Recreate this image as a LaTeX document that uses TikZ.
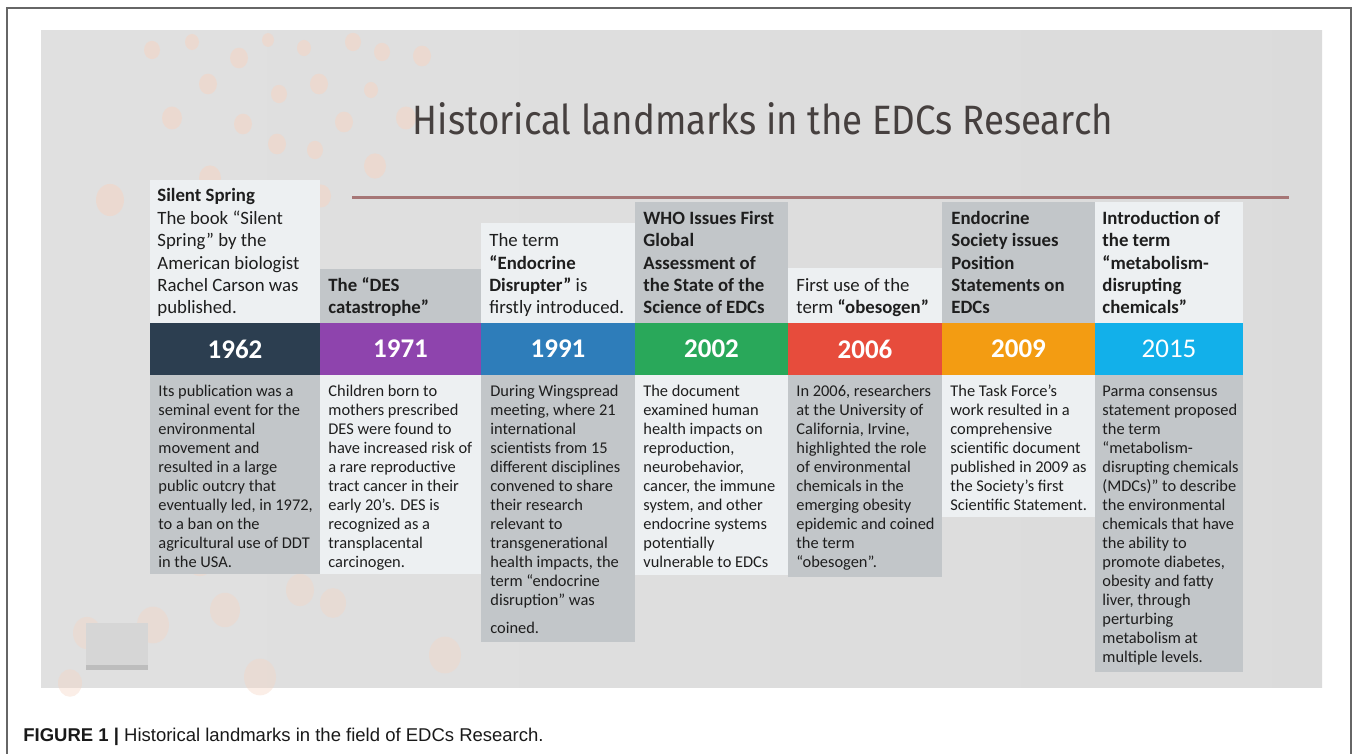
\documentclass[tikz,border=0pt]{standalone}
\usepackage{fontspec}
\usepackage{graphicx}
\usepackage{tikz}
\usetikzlibrary{positioning}
\setmainfont{Carlito}
\newfontfamily\titlefont{Fira Sans}
\newfontfamily\capfont{Liberation Sans}

\definecolor{navy}{HTML}{2C3E50}
\definecolor{purp}{HTML}{8E44AD}
\definecolor{blu}{HTML}{2E7DBA}
\definecolor{grn}{HTML}{29A85A}
\definecolor{rd}{HTML}{E74C3C}
\definecolor{orng}{HTML}{F39C12}
\definecolor{cyn}{HTML}{12B0EA}
\definecolor{lightbox}{HTML}{EDF0F2}
\definecolor{graybox}{HTML}{C2C6C9}
\definecolor{brownline}{HTML}{A67676}
\definecolor{titlegray}{HTML}{46403F}
\definecolor{dotc}{HTML}{F5D5C4}
\definecolor{textc}{HTML}{1E1E1E}

\tikzset{
  toptext/.style={anchor=north west, inner sep=0pt, align=left, text=textc,
    font=\fontsize{9.4}{11.2}\selectfont},
  toptextb/.style={toptext, font=\bfseries\fontsize{9.4}{11.2}\selectfont},
  bottext/.style={anchor=north west, inner sep=0pt, align=left, text=textc,
    font=\fontsize{8.2}{9.5}\selectfont},
  yearlabel/.style={inner sep=0pt, text=white, font=\bfseries\fontsize{13.5}{16}\selectfont},
}

\begin{document}
\begin{tikzpicture}[x=0.5pt,y=-0.5pt]
\useasboundingbox (0,0) rectangle (1357,754);
% frame of the figure
\draw[black!60, line width=0.9pt] (7,754) -- (7,8) -- (1351,8) -- (1351,754);
% slide background
\shade[left color=black!12, middle color=black!4, right color=black!14] (41,31) rectangle (1322,688);
\foreach \px/\py/\r in {152/50/8,192/42/7,239/58/9,268/40/6,304/48/7,353/42/8,382/52/8,422/56/9,
  208/84/9,279/94/8,319/84/9,371/90/7,172/118/10,243/124/9,277/144/9,315/150/8,344/122/9,406/118/10,
  210/178/11,268/196/10,321/196/10,375/166/11,110/200/14}
  \fill[dotc, opacity=0.55] (\px,\py) ellipse ({\r} and {1.15*\r});
\foreach \px/\py/\r in {153/625/16,225/610/15,300/590/14,87/633/14,260/677/16,70/683/12,333/603/13,445/655/16,200/560/14}
  \fill[dotc, opacity=0.4] (\px,\py) ellipse ({\r} and {1.15*\r});
% small box bottom left
\fill[black!16] (86,623) rectangle (148,668);
\fill[black!26] (86,665) rectangle (148,670);
% title and rule
\node[anchor=base, text=titlegray, font=\titlefont\fontsize{20.5}{22}\selectfont] (title) at (763,135) {\scalebox{0.895}[1]{Historical landmarks in the EDCs Research}};
\coordinate (l) at (352,198);
\coordinate (r) at (1289,198);
\draw[brownline, line width=1.5pt] (l) -- (r);

% landmark 1: 1962
\fill[lightbox] (150,180) rectangle (320,323);
\fill[navy] (150,323) rectangle (320,375);
\fill[graybox] (150,375) rectangle (320,574);
\node[toptext] (top1) at (157,185.8) {\strut\textbf{Silent Spring}\\The book “Silent\\Spring” by the\\American biologist\\Rachel Carson was\\published.};
\node[yearlabel] (year1) at (235,349) {1962};
\node[bottext] (bot1) at (158,382.7) {\strut Its publication was a\\seminal event for the\\environmental\\movement and\\resulted in a large\\public outcry that\\eventually led, in 1972,\\to a ban on the\\agricultural use of DDT\\in the USA.};

% landmark 2: 1971
\fill[graybox] (320,269) rectangle (481,323);
\fill[purp] (320,323) rectangle (481,375);
\fill[lightbox] (320,375) rectangle (481,574);
\node[toptextb] (top2) at (328,275.4) {\strut The “DES\\catastrophe”};
\node[yearlabel] (year2) at (400.5,349) {1971};
\node[bottext] (bot2) at (328,382.7) {\strut Children born to\\mothers prescribed\\DES were found to\\have increased risk of\\a rare reproductive\\tract cancer in their\\early 20’s. DES is\\recognized as a\\transplacental\\carcinogen.};

% landmark 3: 1991
\fill[lightbox] (481,223) rectangle (635,323);
\fill[blu] (481,323) rectangle (635,375);
\fill[graybox] (481,375) rectangle (635,642);
\node[toptext] (top3) at (489,230.6) {\strut The term\\\textbf{“Endocrine}\\\textbf{Disrupter”} is\\firstly introduced.};
\node[yearlabel] (year3) at (558,349) {1991};
\node[bottext] (bot3) at (490,382.7) {\strut During Wingspread\\meeting, where 21\\international\\scientists from 15\\different disciplines\\convened to share\\their research\\relevant to\\transgenerational\\health impacts, the\\term “endocrine\\disruption” was\\[4.5pt]coined.};

% landmark 4: 2002
\fill[graybox] (635,202) rectangle (788,323);
\fill[grn] (635,323) rectangle (788,375);
\fill[lightbox] (635,375) rectangle (788,575);
\node[toptextb] (top4) at (643,208.2) {\strut WHO Issues First\\Global\\Assessment of\\the State of the\\Science of EDCs};
\node[yearlabel] (year4) at (711.5,349) {2002};
\node[bottext] (bot4) at (643,382.7) {\strut The document\\examined human\\health impacts on\\reproduction,\\neurobehavior,\\cancer, the immune\\system, and other\\endocrine systems\\potentially\\vulnerable to EDCs};

% landmark 5: 2006
\fill[lightbox] (788,268) rectangle (942,323);
\fill[rd] (788,323) rectangle (942,375);
\fill[graybox] (788,375) rectangle (942,577);
\node[toptext] (top5) at (796,275.4) {\strut First use of the\\term \textbf{“obesogen”}};
\node[yearlabel] (year5) at (865,349) {2006};
\node[bottext] (bot5) at (796,382.7) {\strut In 2006, researchers\\at the University of\\California, Irvine,\\highlighted the role\\of environmental\\chemicals in the\\emerging obesity\\epidemic and coined\\the term\\“obesogen”.};

% landmark 6: 2009
\fill[graybox] (942,202) rectangle (1095,323);
\fill[orng] (942,323) rectangle (1095,375);
\fill[lightbox] (942,375) rectangle (1095,517);
\node[toptextb] (top6) at (951,208.2) {\strut Endocrine\\Society issues\\Position\\Statements on\\EDCs};
\node[yearlabel] (year6) at (1018.5,349) {2009};
\node[bottext] (bot6) at (950,382.7) {\strut The Task Force’s\\work resulted in a\\comprehensive\\scientific document\\published in 2009 as\\the Society’s first\\Scientific Statement.};

% landmark 7: 2015
\fill[lightbox] (1095,202) rectangle (1243,323);
\fill[cyn] (1095,323) rectangle (1243,375);
\fill[graybox] (1095,375) rectangle (1243,672);
\node[toptextb] (top7) at (1102,208.2) {\strut Introduction of\\the term\\“metabolism-\\disrupting\\chemicals”};
\node[yearlabel, font=\fontsize{13.5}{16}\selectfont] (year7) at (1169,349) {2015};
\node[bottext] (bot7) at (1102,382.7) {\strut Parma consensus\\statement proposed\\the term\\“metabolism-\\disrupting chemicals\\(MDCs)” to describe\\the environmental\\chemicals that have\\the ability to\\promote diabetes,\\obesity and fatty\\liver, through\\perturbing\\metabolism at\\multiple levels.};

% caption
\node[anchor=base west, inner sep=0pt, text=black!90, font=\capfont\fontsize{9.25}{11}\selectfont] (caption) at (23,741) {\textbf{FIGURE 1 |} Historical landmarks in the field of EDCs Research.};
\end{tikzpicture}
\end{document}
